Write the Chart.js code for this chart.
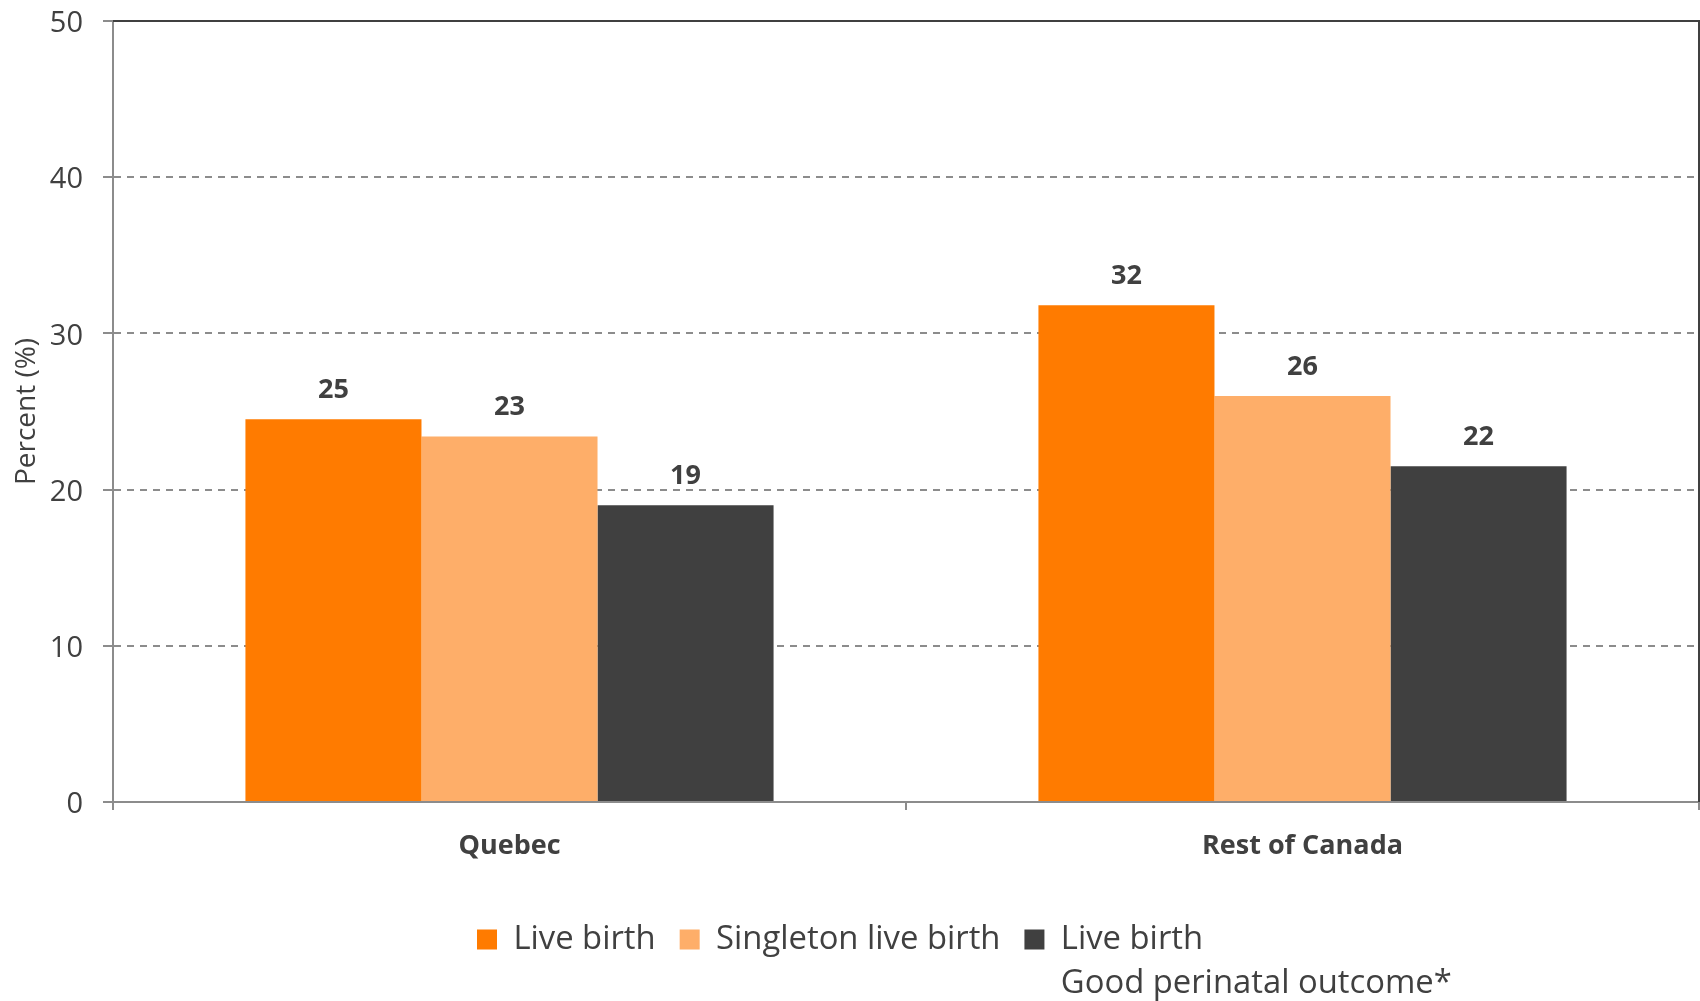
<!DOCTYPE html>
<html>
<head>
<meta charset="utf-8">
<script src="https://cdn.jsdelivr.net/npm/chart.js@4.4.1/dist/chart.umd.min.js"></script>
<style>
  html, body { margin: 0; padding: 0; background: #fff; }
</style>
</head>
<body>
<canvas id="chart" width="1700" height="1001"></canvas>
<script>
// ===== DATA =====
const categories = ['Quebec', 'Rest of Canada'];
const seriesNames = ['Live birth', 'Singleton live birth', ['Live birth', 'Good perinatal outcome*']];
const liveBirth = [24.5, 31.8];
const singletonLiveBirth = [23.4, 26.0];
const goodOutcome = [19.0, 21.5];
const liveBirthLabels = ['25', '32'];
const singletonLabels = ['23', '26'];
const goodOutcomeLabels = ['19', '22'];
const yTicks = [0, 10, 20, 30, 40, 50];
// =========================================

const TEXT = '#404040';
const GRID = '#8c8c8c';

Chart.defaults.font.family = "'Open Sans', sans-serif";
Chart.defaults.color = TEXT;

/* value labels above each bar */
const barLabels = {
  id: 'barLabels',
  afterDatasetsDraw(chart) {
    const ctx = chart.ctx;
    ctx.save();
    ctx.font = "bold 27px 'Open Sans'";
    ctx.fillStyle = TEXT;
    ctx.textAlign = 'center';
    ctx.textBaseline = 'middle';
    chart.data.datasets.forEach((ds, i) => {
      chart.getDatasetMeta(i).data.forEach((bar, j) => {
        ctx.fillText(ds.valueLabels[j], bar.x, bar.y - 29);
      });
    });
    ctx.restore();
  }
};

/* dark frame on top and right of the plot */
const frame = {
  id: 'frame',
  afterDraw(chart) {
    const { left, top, right, bottom } = chart.chartArea;
    const ctx = chart.ctx;
    ctx.save();
    ctx.strokeStyle = TEXT;
    ctx.lineWidth = 2;
    ctx.beginPath();
    ctx.moveTo(left, top);
    ctx.lineTo(right, top);
    ctx.lineTo(right, bottom);
    ctx.stroke();
    ctx.restore();
  }
};

/* legend starts at x=477 and sits a bit higher than the default box */
const legendShift = {
  id: 'legendShift',
  afterLayout(chart) {
    const lg = chart.legend;
    const w = lg.right - lg.left;
    lg.left = 477 - 24;
    lg.right = lg.left + w;
    lg.top -= 35;
    lg.bottom = 1001;   // keep the second text line inside the legend clip
  }
};

new Chart(document.getElementById('chart'), {
  type: 'bar',
  data: {
    labels: categories,
    datasets: [
      { label: seriesNames[0], data: liveBirth, valueLabels: liveBirthLabels, backgroundColor: '#FF7B00' },
      { label: seriesNames[1], data: singletonLiveBirth, valueLabels: singletonLabels, backgroundColor: '#FEAE69' },
      { label: seriesNames[2], data: goodOutcome, valueLabels: goodOutcomeLabels, backgroundColor: '#404040' }
    ]
  },
  options: {
    responsive: false,
    animation: false,
    layout: { padding: { top: 21, right: 1, left: 0, bottom: 0 } },
    datasets: {
      bar: { barPercentage: 1, categoryPercentage: 0.666, borderWidth: 0 }
    },
    plugins: {
      tooltip: { enabled: false },
      legend: {
        position: 'bottom',
        align: 'start',
        labels: {
          boxWidth: 20,
          boxHeight: 20,
          padding: 24,
          color: TEXT,
          font: { size: 32.8, lineHeight: 1.34 }
        }
      }
    },
    scales: {
      x: {
        afterFit: s => { s.height = (1001 - s.chart.legend.height) - 802; },
        grid: {
          drawOnChartArea: false,
          color: GRID, lineWidth: 2, tickLength: 8
        },
        border: { color: GRID, width: 2 },
        ticks: { padding: 20, color: TEXT, font: { size: 27, weight: 'bold' } }
      },
      y: {
        min: 0, max: 50,
        afterFit: s => { s.width = 113; s.paddingTop = 0; s.paddingBottom = 0; },
        afterBuildTicks: s => { s.ticks = yTicks.map(v => ({ value: v })); },
        grid: {
          color: GRID, lineWidth: 2, tickLength: 10,
          tickColor: GRID, tickWidth: 2, tickBorderDash: []
        },
        border: { color: GRID, width: 2, dash: [7, 6] },
        ticks: { padding: 20, labelOffset: 3, color: TEXT, font: { size: 29 } },
        title: {
          display: true, text: 'Percent (%)', color: TEXT,
          font: { size: 28 }, padding: { top: 10, bottom: 0 }
        }
      }
    }
  },
  plugins: [barLabels, frame, legendShift]
});
</script>
</body>
</html>
